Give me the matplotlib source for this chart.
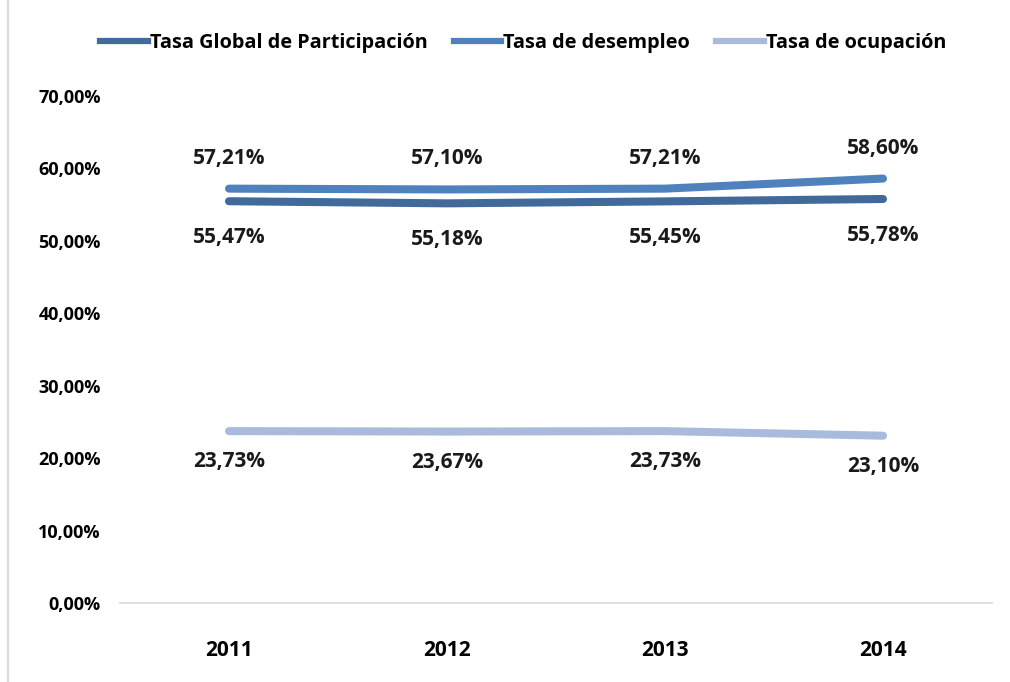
import matplotlib.pyplot as plt
from matplotlib.lines import Line2D

# datos del gráfico
years = ['2011', '2012', '2013', '2014']
participacion = [55.47, 55.18, 55.45, 55.78]
desempleo = [57.21, 57.10, 57.21, 58.60]
ocupacion = [23.73, 23.67, 23.73, 23.10]
y_ticks = [0, 10, 20, 30, 40, 50, 60, 70]

plt.rcParams['font.family'] = ['Open Sans', 'DejaVu Sans']

fig = plt.figure(figsize=(10.1, 6.82), dpi=100)
ax = fig.add_axes([120 / 1010, 1 - 603 / 682, 872 / 1010, 507 / 682])

x = list(range(len(years)))
series = [
    ('Tasa Global de Participación', participacion, '#41699a', -26),
    ('Tasa de desempleo', desempleo, '#4f81bd', 22),
    ('Tasa de ocupación', ocupacion, '#a9bbdd', -22),
]

for name, vals, color, off in series:
    ax.plot(x, vals, color=color, lw=5.8, solid_capstyle='round', label=name)
    for xi, v in zip(x, vals):
        txt = f'{v:.2f}%'.replace('.', ',')
        ax.annotate(txt, (xi, v), xytext=(0, off), textcoords='offset points',
                    ha='center', va='center', fontsize=15, fontweight='bold',
                    color='#1a1a1a')

ax.set_xlim(-0.5, 3.5)
ax.set_ylim(0, 70)
ax.set_xticks(x)
ax.set_xticklabels(years, fontsize=15, fontweight='bold')
ax.set_yticks(y_ticks)
ax.set_yticklabels([f'{t},00%' for t in y_ticks], fontsize=13, fontweight='bold')
ax.tick_params(length=0)
ax.tick_params(axis='x', pad=27)
ax.tick_params(axis='y', pad=14)
for sp in ['top', 'right', 'left']:
    ax.spines[sp].set_visible(False)
ax.spines['bottom'].set_color('#d9d9d9')
ax.spines['bottom'].set_linewidth(1.2)

handles = [Line2D([0], [0], color=c, lw=4.5) for _, _, c, _ in series]
fig.legend(handles, [s[0] for s in series], loc='center', bbox_to_anchor=(0.518, 1 - 43 / 682),
           ncol=3, frameon=False, prop={'size': 14.3, 'weight': 'bold'},
           handlelength=2.4, handletextpad=0.1, columnspacing=1.3)

# borde izquierdo del área del gráfico
fig.add_artist(Line2D([8 / 1010, 8 / 1010], [0, 1], color='#d9d9d9', lw=1.5,
                      transform=fig.transFigure))

fig.savefig('out.png', dpi=100)
